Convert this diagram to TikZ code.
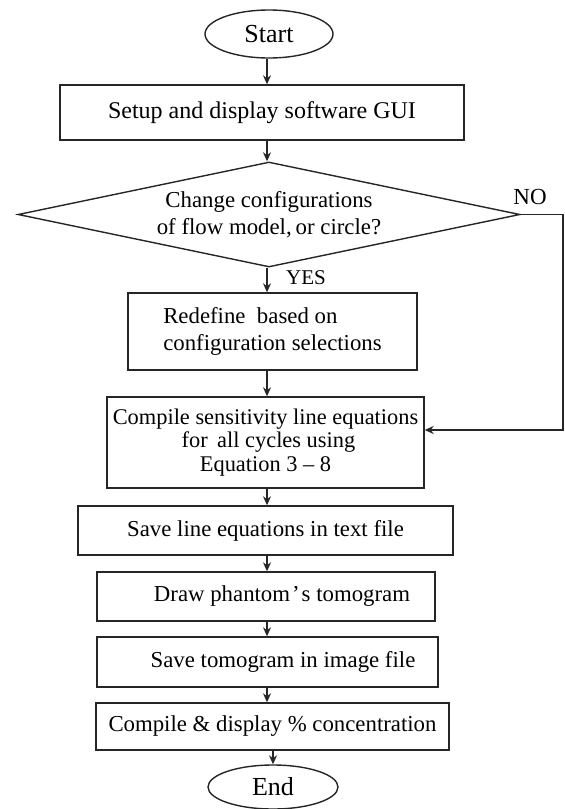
\documentclass[tikz,border=0pt]{standalone}
\usepackage{fontspec}
\setmainfont{Liberation Serif}
\usetikzlibrary{shapes.geometric,arrows.meta}
\begin{document}
\begin{tikzpicture}[x=1pt,y=-1pt,
  line/.style={draw=black!85, line width=1.4pt},
  box/.style={line, rectangle, inner sep=0pt, font=\fontsize{22.8}{25}\selectfont, align=center, text=black},
  term/.style={line, ellipse, inner sep=0pt, font=\fontsize{26}{30}\selectfont, text=black},
  decision/.style={line, diamond, inner sep=0pt, aspect=4.78, font=\fontsize{22.8}{27}\selectfont, align=center, text=black},
  lbl/.style={inner sep=0pt, text=black},
  arr/.style={line, -{Stealth[length=9pt,width=8pt]}},
]
\useasboundingbox (0,0) rectangle (565,809);
\fill[white] (0,0) rectangle (565,809);

\node[term, minimum width=128, minimum height=48] (start) at (269,34) {Start};
\node[box, minimum width=404, minimum height=55, font=\fontsize{24}{27}\selectfont] (box1) at (262,112.5) {Setup and display software GUI};
\node[decision, minimum width=502, minimum height=105] (dec) at (269,214.5) {Change configurations\\of flow model,\kern4pt or circle?};
\node[box, minimum width=289, minimum height=77, align=left, font=\fontsize{22.8}{27}\selectfont] (box2) at (272.5,331.5) {Redefine\ \ based on\\configuration selections};
\node[box, minimum width=317, minimum height=91, font=\fontsize{22.4}{23.5}\selectfont] (box3) at (265.5,442.5) {Compile sensitivity line equations\\\hspace*{6pt}for\ \,all cycles using\\Equation 3 -- 8};
\node[box, minimum width=375, minimum height=49] (box4) at (265.5,530.5) {Save line equations in text file};
\node[box, minimum width=338, minimum height=49] (box5) at (266,596.5) {\hspace*{32pt}Draw phantom\kern2pt’\kern2pt s tomogram};
\node[box, minimum width=341, minimum height=50] (box6) at (267.5,662) {\hspace*{31pt}Save tomogram in image file};
\node[box, minimum width=353, minimum height=47] (box7) at (272.5,726.5) {Compile \& display \% concentration};
\node[term, minimum width=130, minimum height=44] (stop) at (273,787) {End};

\node[lbl, font=\fontsize{21}{24}\selectfont] (yes) at (306,278) {YES};
\node[lbl, font=\fontsize{23}{26}\selectfont] (no) at (530,197) {NO};

\coordinate (ax) at (267,0);
\coordinate (nobend) at (563,430);

\draw[arr] (start.south -| ax) -- (box1.north -| ax);
\draw[arr] (box1.south -| ax) -- (dec.north -| ax);
\draw[arr] (dec.south -| ax) -- (box2.north -| ax);
\draw[arr] (box2.south -| ax) -- (box3.north -| ax);
\draw[arr] (box3.south -| ax) -- (box4.north -| ax);
\draw[arr] (box4.south -| ax) -- (box5.north -| ax);
\draw[arr] (box5.south -| ax) -- (box6.north -| ax);
\draw[arr] (box6.south -| ax) -- (box7.north -| ax);
\draw[arr] (box7.south -| stop) -- (stop.north);
\draw[arr] (dec.east) -| (nobend) -- (nobend -| box3.east);
\end{tikzpicture}
\end{document}
